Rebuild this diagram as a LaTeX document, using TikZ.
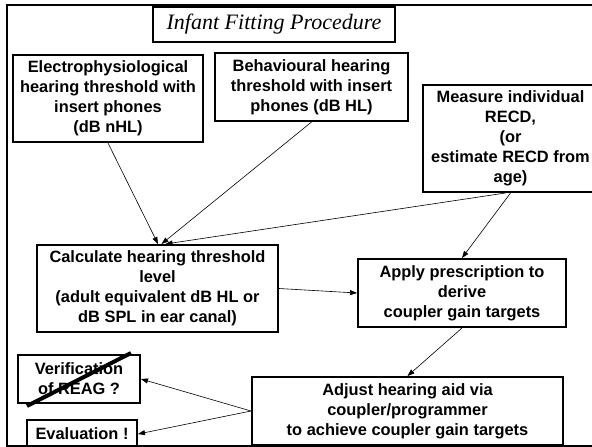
\documentclass[tikz,border=0pt]{standalone}
\usepackage{fontspec}
\setmainfont{Liberation Sans}
\newfontfamily\titlefont{Liberation Serif}
\usetikzlibrary{arrows.meta}
\tikzset{
  boxnode/.style={draw, line width=2pt, align=center, inner sep=0pt,
    font=\fontsize{16.4}{20}\selectfont\bfseries},
  conn/.style={line width=0.6pt, -{Triangle[length=7pt,width=5pt]}},
  titlenode/.style={draw, line width=1.5pt, inner sep=0pt,
    font=\titlefont\itshape\fontsize{22}{24}\selectfont},
}
\begin{document}
\begin{tikzpicture}[x=1pt,y=-1pt]
\useasboundingbox (0,0) rectangle (592,447);
\clip (0,0) rectangle (592,447);
\fill[white] (0,0) rectangle (592,447);
% outer frame
\draw[line width=2pt] (7,5) rectangle (620,446);
% title
\node[titlenode, minimum width=242pt, minimum height=35pt] (title) at (274,24.5) {Infant Fitting Procedure};
% boxes
\node[boxnode, minimum width=190pt, minimum height=87pt] (electro) at (108,98.5)
  {Electrophysiological\\hearing threshold with\\insert phones\\(dB nHL)};
\node[boxnode, minimum width=193pt, minimum height=68pt] (behav) at (311.5,87)
  {Behavioural hearing\\threshold with insert\\phones (dB HL)};
\node[boxnode, minimum width=175pt, minimum height=107pt] (measure) at (510.5,138.5)
  {Measure individual\\RECD,\\(or\\estimate RECD from\\age)};
\node[boxnode, minimum width=241pt, minimum height=87pt] (calc) at (157.5,288.5)
  {Calculate hearing threshold\\level\\(adult equivalent dB HL or\\dB SPL in ear canal)};
\node[boxnode, minimum width=208pt, minimum height=68pt] (apply) at (462,293)
  {Apply prescription to\\derive\\coupler gain targets};
\node[boxnode, minimum width=311pt, minimum height=68pt] (adjust) at (407.5,411)
  {Adjust hearing aid via\\coupler/programmer\\to achieve coupler gain targets};
\node[boxnode, minimum width=122pt, minimum height=48pt] (verif) at (79,379)
  {Verification\\of REAG ?};
\node[boxnode, minimum width=110pt, minimum height=28pt] (eval) at (82,434)
  {Evaluation !};
% strike-through
\draw[line width=4pt] (27,406) -- (131,353);
% connectors
\draw[conn] (electro.south) -- ([xshift=0.5pt]calc.north);
\draw[conn] (behav.south) -- ([xshift=4pt]calc.north);
\draw[conn] ([xshift=-5pt]measure.south) -- ([xshift=8pt]calc.north);
\draw[conn] (measure.south) -- (apply.north);
\draw[conn] (calc.east) -- (apply.west);
\draw[conn] (apply.south) -- (adjust.north);
\draw[conn] (adjust.west) -- (verif.east);
\draw[conn] (adjust.west) -- (eval.east);
\end{tikzpicture}
\end{document}
